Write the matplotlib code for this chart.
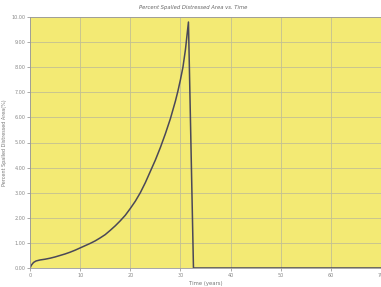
import numpy as np
import matplotlib.pyplot as plt

# values
time_years = [0, 0.3, 0.7, 1.2, 2, 3, 4, 5, 6, 7, 8, 9, 10, 11, 12, 13, 14, 15, 16, 17, 18, 19,
              20, 21, 22, 23, 24, 25, 26, 27, 28, 28.5, 29, 29.5, 30, 30.5, 31, 31.6, 32.6, 70]
spalled_pct = [0, 0.12, 0.22, 0.28, 0.32, 0.35, 0.39, 0.44, 0.5, 0.56, 0.63, 0.71, 0.8, 0.89, 0.98,
               1.08, 1.2, 1.33, 1.5, 1.68, 1.88, 2.1, 2.37, 2.66, 3.0, 3.4, 3.85, 4.3, 4.8, 5.35, 5.95,
               6.3, 6.65, 7.05, 7.5, 8.0, 8.7, 9.8, 0, 0]
x_ticks = [0, 10, 20, 30, 40, 50, 60, 70]
y_ticks = [0, 1, 2, 3, 4, 5, 6, 7, 8, 9, 10]

fig = plt.figure(figsize=(3.81, 2.87), dpi=100)
ax = fig.add_axes([30 / 381, 1 - 268 / 287, 1 - 30 / 381, (268 - 17) / 287])
ax.set_facecolor('#f3ea74')

ax.plot(time_years, spalled_pct, color='#4a4858', lw=1.1)

ax.set_xlim(0, 70)
ax.set_ylim(0, 10)
ax.set_xticks(x_ticks)
ax.set_yticks(y_ticks)
ax.set_yticklabels(['%.2f' % v for v in y_ticks])
ax.grid(True, color='#c2bf92', lw=0.6)
ax.tick_params(labelsize=3.5, colors='#888888', length=2, width=0.5, pad=1.5)
for s in ax.spines.values():
    s.set_color('#999999')
    s.set_linewidth(0.6)

ax.set_xlabel('Time (years)', fontsize=3.8, color='#777777', labelpad=2)
ax.set_ylabel('Percent Spalled Distressed Area(%)', fontsize=3.5, color='#777777', labelpad=3)
fig.text(193 / 381, 1 - 8 / 287, 'Percent Spalled Distressed Area vs. Time', fontsize=3.8,
         style='italic', color='#666666', ha='center', va='center')

fig.savefig('out.png', dpi=100)
